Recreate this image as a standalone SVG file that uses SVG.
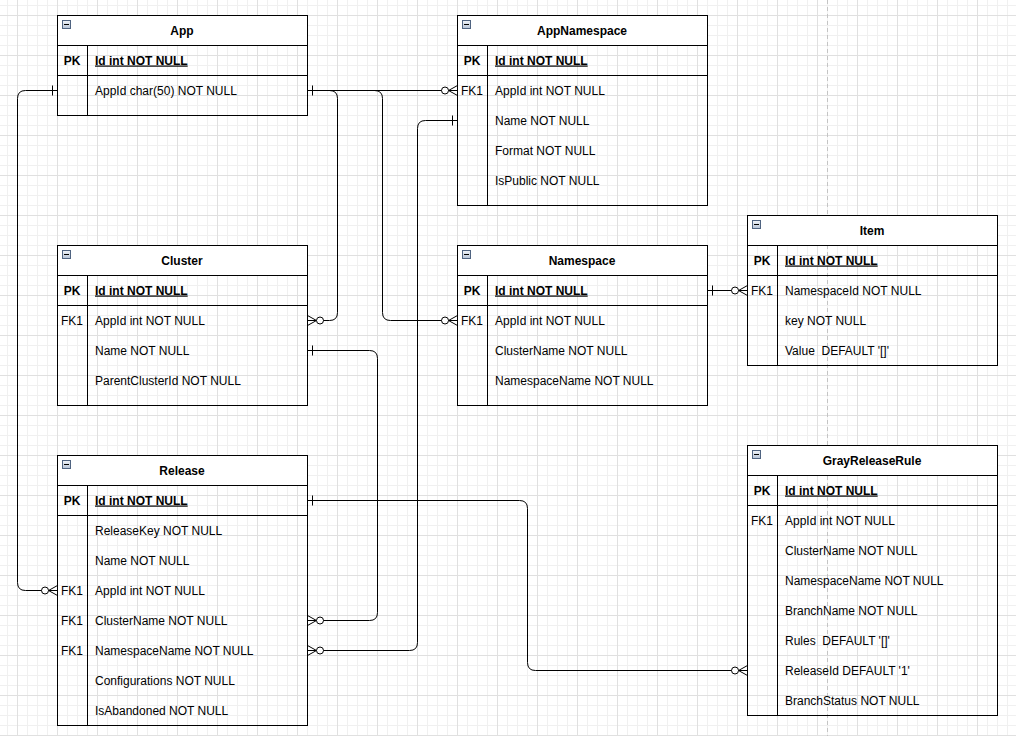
<svg xmlns="http://www.w3.org/2000/svg" width="1016" height="736" viewBox="0 0 1016 736">
<style>
.box{fill:none;stroke:#000;stroke-width:1}
.hdr{fill:#fff;stroke:none}
.ln{stroke:#000;stroke-width:1;fill:none}
.title{font-family:"Liberation Sans",Arial,sans-serif;font-size:12px;font-weight:bold;text-anchor:middle;fill:#000}
.key{font-family:"Liberation Sans",Arial,sans-serif;font-size:12px;text-anchor:middle;fill:#000}
.pk{font-weight:bold}
.fld{font-family:"Liberation Sans",Arial,sans-serif;font-size:12px;fill:#000}
.pkf{font-weight:bold;text-decoration:underline}
.conn{fill:none;stroke:#000;stroke-width:1}
.icon{fill:url(#ig);stroke:#4f6381;stroke-width:1}
.minus{stroke:#000;stroke-width:1}
</style>
<defs>
<pattern id="grid" x="17" y="15" width="40" height="40" patternUnits="userSpaceOnUse">
<rect width="40" height="40" fill="#fff"/>
<rect x="10" y="0" width="1" height="40" fill="#f0f0f0"/>
<rect x="20" y="0" width="1" height="40" fill="#f0f0f0"/>
<rect x="30" y="0" width="1" height="40" fill="#f0f0f0"/>
<rect x="0" y="10" width="40" height="1" fill="#f0f0f0"/>
<rect x="0" y="20" width="40" height="1" fill="#f0f0f0"/>
<rect x="0" y="30" width="40" height="1" fill="#f0f0f0"/>
<rect x="0" y="0" width="1" height="40" fill="#e0e0e0"/>
<rect x="0" y="0" width="40" height="1" fill="#e0e0e0"/>
</pattern>
<linearGradient id="ig" x1="0" y1="0" x2="0" y2="1">
<stop offset="0" stop-color="#f2f5fa"/>
<stop offset="1" stop-color="#b4c2d6"/>
</linearGradient>
<marker id="many" markerUnits="userSpaceOnUse" orient="auto-start-reverse" refX="0" refY="0" markerWidth="40" markerHeight="40" viewBox="-20 -20 40 40" overflow="visible">
<path d="M0,-5 L-9,0 L0,5 M0,0 L-9,0" fill="none" stroke="#000" stroke-width="1"/>
<circle cx="-12.5" cy="0" r="3.5" fill="#fff" stroke="#000" stroke-width="1"/>
</marker>
<marker id="one" markerUnits="userSpaceOnUse" orient="auto-start-reverse" refX="0" refY="0" markerWidth="40" markerHeight="40" viewBox="-20 -20 40 40" overflow="visible">
<path d="M-5,-5 L-5,5" fill="none" stroke="#000" stroke-width="1"/>
</marker>
</defs>
<rect x="0" y="0" width="1016" height="736" fill="url(#grid)"/>
<line x1="827.5" y1="0" x2="827.5" y2="736" stroke="#c4c4c4" stroke-width="1" stroke-dasharray="4 3"/>

<g id="connectors">
<path class="conn" d="M307.5,90.5 H457.5" marker-start="url(#one)" marker-end="url(#many)"/>
<path class="conn" d="M57.5,90.5 H25.5 Q17.5,90.5 17.5,98.5 V582.5 Q17.5,590.5 25.5,590.5 H57.5" marker-start="url(#one)" marker-end="url(#many)"/>
<path class="conn" d="M307.5,90.5 H329.5 Q337.5,90.5 337.5,98.5 V312.5 Q337.5,320.5 329.5,320.5 H307.5" marker-end="url(#many)"/>
<path class="conn" d="M307.5,90.5 H374.5 Q382.5,90.5 382.5,98.5 V312.5 Q382.5,320.5 390.5,320.5 H457.5" marker-end="url(#many)"/>
<path class="conn" d="M307.5,650.5 H409.5 Q417.5,650.5 417.5,642.5 V128.5 Q417.5,120.5 425.5,120.5 H457.5" marker-start="url(#many)" marker-end="url(#one)"/>
<path class="conn" d="M307.5,350.5 H369.5 Q377.5,350.5 377.5,358.5 V612.5 Q377.5,620.5 369.5,620.5 H307.5" marker-start="url(#one)" marker-end="url(#many)"/>
<path class="conn" d="M707.5,290.5 H747.5" marker-start="url(#one)" marker-end="url(#many)"/>
<path class="conn" d="M307.5,500.5 H519.5 Q527.5,500.5 527.5,508.5 V662.5 Q527.5,670.5 535.5,670.5 H747.5" marker-start="url(#one)" marker-end="url(#many)"/>
</g>

<g id="App">
<rect class="hdr" x="57.5" y="15.5" width="250" height="30"/>
<rect class="box" x="57.5" y="15.5" width="250" height="100"/>
<path class="ln" d="M57.5,45.5 H307.5 M57.5,75.5 H307.5 M87.5,45.5 V115.5"/>
<rect class="icon" x="62.5" y="20.5" width="8" height="8"/><path class="minus" d="M64,24.5 H69"/>
<text class="title" x="182" y="35">App</text>
<text class="key pk" x="72" y="64.5">PK</text>
<text class="fld pkf" x="95" y="64.5">Id int NOT NULL</text>
<text class="fld" x="95" y="94.5">AppId char(50) NOT NULL</text>
</g>

<g id="AppNamespace">
<rect class="hdr" x="457.5" y="15.5" width="250" height="30"/>
<rect class="box" x="457.5" y="15.5" width="250" height="190"/>
<path class="ln" d="M457.5,45.5 H707.5 M457.5,75.5 H707.5 M487.5,45.5 V205.5"/>
<rect class="icon" x="462.5" y="20.5" width="8" height="8"/><path class="minus" d="M464,24.5 H469"/>
<text class="title" x="582" y="35">AppNamespace</text>
<text class="key pk" x="472" y="64.5">PK</text>
<text class="fld pkf" x="495" y="64.5">Id int NOT NULL</text>
<text class="key" x="472" y="94.5">FK1</text>
<text class="fld" x="495" y="94.5">AppId int NOT NULL</text>
<text class="fld" x="495" y="124.5">Name NOT NULL</text>
<text class="fld" x="495" y="154.5">Format NOT NULL</text>
<text class="fld" x="495" y="184.5">IsPublic NOT NULL</text>
</g>

<g id="Item">
<rect class="hdr" x="747.5" y="215.5" width="250" height="30"/>
<rect class="box" x="747.5" y="215.5" width="250" height="150"/>
<path class="ln" d="M747.5,245.5 H997.5 M747.5,275.5 H997.5 M777.5,245.5 V365.5"/>
<rect class="icon" x="752.5" y="220.5" width="8" height="8"/><path class="minus" d="M754,224.5 H759"/>
<text class="title" x="872" y="235">Item</text>
<text class="key pk" x="762" y="264.5">PK</text>
<text class="fld pkf" x="785" y="264.5">Id int NOT NULL</text>
<text class="key" x="762" y="294.5">FK1</text>
<text class="fld" x="785" y="294.5">NamespaceId NOT NULL</text>
<text class="fld" x="785" y="324.5">key NOT NULL</text>
<text class="fld" x="785" y="354.5" xml:space="preserve">Value  DEFAULT '[]'</text>
</g>

<g id="Cluster">
<rect class="hdr" x="57.5" y="245.5" width="250" height="30"/>
<rect class="box" x="57.5" y="245.5" width="250" height="160"/>
<path class="ln" d="M57.5,275.5 H307.5 M57.5,305.5 H307.5 M87.5,275.5 V405.5"/>
<rect class="icon" x="62.5" y="250.5" width="8" height="8"/><path class="minus" d="M64,254.5 H69"/>
<text class="title" x="182" y="265">Cluster</text>
<text class="key pk" x="72" y="294.5">PK</text>
<text class="fld pkf" x="95" y="294.5">Id int NOT NULL</text>
<text class="key" x="72" y="324.5">FK1</text>
<text class="fld" x="95" y="324.5">AppId int NOT NULL</text>
<text class="fld" x="95" y="354.5">Name NOT NULL</text>
<text class="fld" x="95" y="384.5">ParentClusterId NOT NULL</text>
</g>

<g id="Namespace">
<rect class="hdr" x="457.5" y="245.5" width="250" height="30"/>
<rect class="box" x="457.5" y="245.5" width="250" height="160"/>
<path class="ln" d="M457.5,275.5 H707.5 M457.5,305.5 H707.5 M487.5,275.5 V405.5"/>
<rect class="icon" x="462.5" y="250.5" width="8" height="8"/><path class="minus" d="M464,254.5 H469"/>
<text class="title" x="582" y="265">Namespace</text>
<text class="key pk" x="472" y="294.5">PK</text>
<text class="fld pkf" x="495" y="294.5">Id int NOT NULL</text>
<text class="key" x="472" y="324.5">FK1</text>
<text class="fld" x="495" y="324.5">AppId int NOT NULL</text>
<text class="fld" x="495" y="354.5">ClusterName NOT NULL</text>
<text class="fld" x="495" y="384.5">NamespaceName NOT NULL</text>
</g>

<g id="Release">
<rect class="hdr" x="57.5" y="455.5" width="250" height="30"/>
<rect class="box" x="57.5" y="455.5" width="250" height="270"/>
<path class="ln" d="M57.5,485.5 H307.5 M57.5,515.5 H307.5 M87.5,485.5 V725.5"/>
<rect class="icon" x="62.5" y="460.5" width="8" height="8"/><path class="minus" d="M64,464.5 H69"/>
<text class="title" x="182" y="475">Release</text>
<text class="key pk" x="72" y="504.5">PK</text>
<text class="fld pkf" x="95" y="504.5">Id int NOT NULL</text>
<text class="fld" x="95" y="534.5">ReleaseKey NOT NULL</text>
<text class="fld" x="95" y="564.5">Name NOT NULL</text>
<text class="key" x="72" y="594.5">FK1</text>
<text class="fld" x="95" y="594.5">AppId int NOT NULL</text>
<text class="key" x="72" y="624.5">FK1</text>
<text class="fld" x="95" y="624.5">ClusterName NOT NULL</text>
<text class="key" x="72" y="654.5">FK1</text>
<text class="fld" x="95" y="654.5">NamespaceName NOT NULL</text>
<text class="fld" x="95" y="684.5">Configurations NOT NULL</text>
<text class="fld" x="95" y="714.5">IsAbandoned NOT NULL</text>
</g>

<g id="GrayReleaseRule">
<rect class="hdr" x="747.5" y="445.5" width="250" height="30"/>
<rect class="box" x="747.5" y="445.5" width="250" height="270"/>
<path class="ln" d="M747.5,475.5 H997.5 M747.5,505.5 H997.5 M777.5,475.5 V715.5"/>
<rect class="icon" x="752.5" y="450.5" width="8" height="8"/><path class="minus" d="M754,454.5 H759"/>
<text class="title" x="872" y="465">GrayReleaseRule</text>
<text class="key pk" x="762" y="494.5">PK</text>
<text class="fld pkf" x="785" y="494.5">Id int NOT NULL</text>
<text class="key" x="762" y="524.5">FK1</text>
<text class="fld" x="785" y="524.5">AppId int NOT NULL</text>
<text class="fld" x="785" y="554.5">ClusterName NOT NULL</text>
<text class="fld" x="785" y="584.5">NamespaceName NOT NULL</text>
<text class="fld" x="785" y="614.5">BranchName NOT NULL</text>
<text class="fld" x="785" y="644.5" xml:space="preserve">Rules  DEFAULT '[]'</text>
<text class="fld" x="785" y="674.5">ReleaseId DEFAULT '1'</text>
<text class="fld" x="785" y="704.5">BranchStatus NOT NULL</text>
</g>
</svg>
